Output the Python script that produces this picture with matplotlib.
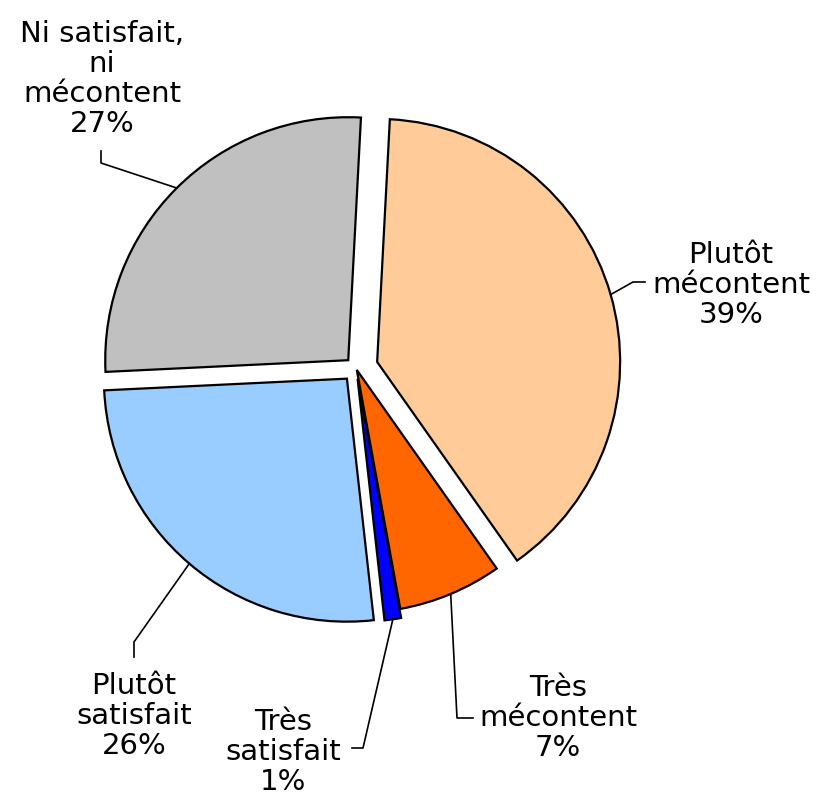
import numpy as np
import matplotlib.pyplot as plt

# data, clockwise from the top
categories = ["Plutôt\nmécontent", "Très\nmécontent", "Très\nsatisfait",
              "Plutôt\nsatisfait", "Ni satisfait,\nni\nmécontent"]
values = [39.4, 6.9, 1.1, 26.0, 26.6]
colors = ["#FFCC99", "#FF6600", "#0000FF", "#99CCFF", "#C0C0C0"]
# explode offsets in pixels (pie explode is in data units)
explode = [22, 2, 11, 14, 11]

# label layout (pixels from top-left): text centre, leader elbow, leader end
text_pos = [(731, 285), (558, 718), (283, 752), (134, 716), (102, 79)]
elbows = [(633, 282), (457, 718), (363, 748), (134, 642), (101, 163)]
ends = [(645, 282), (473, 718), (352, 748), (134, 657), (101, 151)]

W, H = 816, 798
fig = plt.figure(figsize=(W / 100, H / 100), dpi=100)
ax = fig.add_axes([0, 0, 1, 1])

wedges, _ = ax.pie(values, colors=colors, explode=explode, startangle=87,
                   counterclock=False, center=(356, H - 368), radius=243,
                   wedgeprops=dict(edgecolor="black", linewidth=1.6),
                   frame=True)
ax.set_xlim(0, W)
ax.set_ylim(0, H)
ax.axis("off")

for w, cat, v, tp, el, en in zip(wedges, categories, values, text_pos, elbows, ends):
    mid = np.deg2rad((w.theta1 + w.theta2) / 2)
    cx, cy = w.center
    sx = cx + w.r * np.cos(mid)
    sy = cy + w.r * np.sin(mid)
    ax.plot([sx, el[0], en[0]], [sy, H - el[1], H - en[1]], color="black", lw=1.2)
    ax.text(tp[0], H - tp[1], f"{cat}\n{v:.0f}%", ha="center", va="center",
            fontsize=21, linespacing=1.1, family="DejaVu Sans")

fig.savefig("out.png", dpi=100)
